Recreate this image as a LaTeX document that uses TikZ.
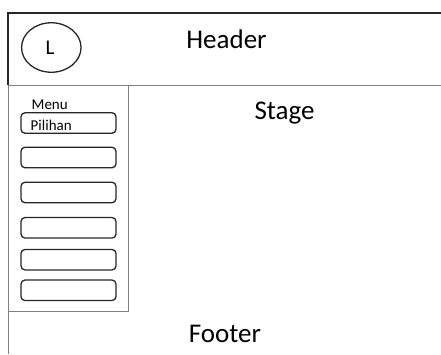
\documentclass[tikz,border=0pt]{standalone}
\usepackage{fontspec}
\setmainfont{Carlito}
\usetikzlibrary{shapes.geometric}
\begin{document}
\begin{tikzpicture}[x=1pt,y=-1pt,
  thickline/.style={draw=black!85,line width=1.6pt},
  thinline/.style={draw=black!50,line width=0.8pt},
  menubtn/.style={draw=black!85,line width=1.3pt,rounded corners=4pt,minimum width=95pt,minimum height=20.5pt,inner sep=0pt},
  bigtext/.style={font=\fontsize{27}{31}\selectfont,anchor=base,inner sep=0pt},
  smalltext/.style={font=\fontsize{15}{18}\selectfont,anchor=base west,inner sep=0pt}]
\useasboundingbox (0,0) rectangle (441,354);
% header frame
\coordinate (htl) at (8,13);
\coordinate (htr) at (441,13);
\coordinate (hbl) at (8,85);
\coordinate (hbr) at (441,85);
\coordinate (bl) at (8,354);
\draw[thinline] (hbl) -- (hbr);
\draw[thinline] (hbl) -- (bl);
\draw[thickline] (htr) -- (htl) -- (hbl);
% menu panel
\coordinate (mtr) at (128,85);
\coordinate (mbr) at (128,311);
\coordinate (mbl) at (8,311);
\draw[thinline] (mtr) -- (mbr) -- (mbl);
% logo
\node[ellipse,draw=black!85,line width=1.3pt,minimum width=59.5pt,minimum height=49.5pt,inner sep=0pt] (logo) at (51.3,47.5) {};
\node[font=\fontsize{21}{24}\selectfont,anchor=base,inner sep=0pt] (L) at (50,54.5) {L};
% labels
\node[bigtext] (header) at (226.5,48) {Header};
\node[bigtext] (stage) at (284.5,119) {Stage};
\node[bigtext] (footer) at (225,342.5) {Footer};
% menu buttons
\node[menubtn] (b1) at (68.5,123) {};
\node[menubtn] (b2) at (68.5,157.5) {};
\node[menubtn] (b3) at (68.5,192.5) {};
\node[menubtn] (b4) at (68.5,227.8) {};
\node[menubtn] (b5) at (68.5,259.7) {};
\node[menubtn] (b6) at (68.5,290.3) {};
\node[smalltext] (menu) at (31.5,109.3) {Menu};
\node[smalltext] (pilihan) at (30.5,130.5) {Pilihan};
\end{tikzpicture}
\end{document}
